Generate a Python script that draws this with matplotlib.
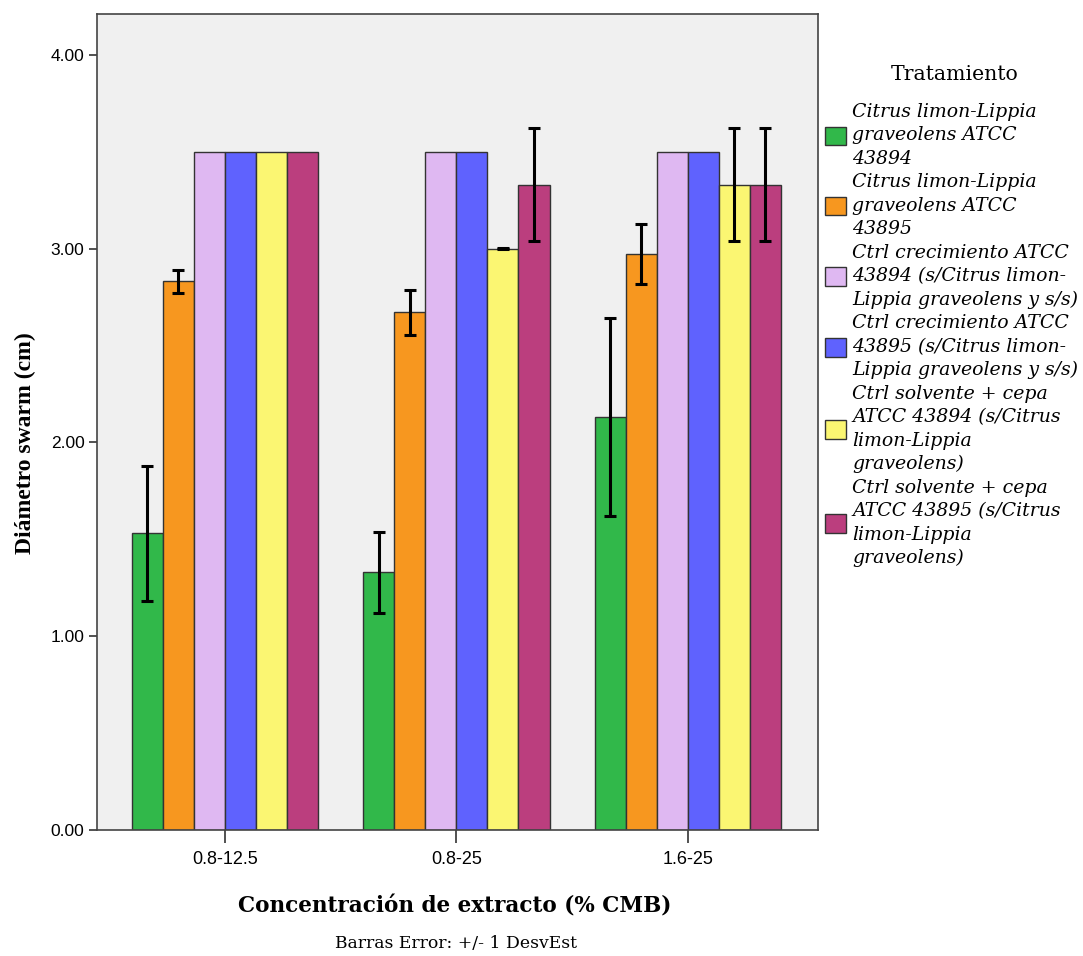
import numpy as np
import matplotlib.pyplot as plt

# medias y desviaciones estandar del diametro swarm (cm)
concentraciones = ['0.8-12.5', '0.8-25', '1.6-25']
tratamientos = [
    'Citrus limon-Lippia\ngraveolens ATCC\n43894',
    'Citrus limon-Lippia\ngraveolens ATCC\n43895',
    'Ctrl crecimiento ATCC\n43894 (s/Citrus limon-\nLippia graveolens y s/s)',
    'Ctrl crecimiento ATCC\n43895 (s/Citrus limon-\nLippia graveolens y s/s)',
    'Ctrl solvente + cepa\nATCC 43894 (s/Citrus\nlimon-Lippia\ngraveolens)',
    'Ctrl solvente + cepa\nATCC 43895 (s/Citrus\nlimon-Lippia\ngraveolens)',
]
medias = [
    [1.53, 1.33, 2.13],
    [2.83, 2.67, 2.97],
    [3.50, 3.50, 3.50],
    [3.50, 3.50, 3.50],
    [3.50, 3.00, 3.33],
    [3.50, 3.33, 3.33],
]
desv = [
    [0.35, 0.21, 0.51],
    [0.06, 0.115, 0.155],
    [0.0, 0.0, 0.0],
    [0.0, 0.0, 0.0],
    [0.0, 0.003, 0.29],
    [0.0, 0.29, 0.29],
]
colores = ['#31b84a', '#f7971f', '#dfb8f2', '#5f62fe', '#fbf672', '#bb3e7e']

serif = ['Liberation Serif', 'DejaVu Serif']
ancha = ['DejaVu Serif']
sans = ['Liberation Sans', 'DejaVu Sans']

fig = plt.figure(figsize=(10.83, 9.56), dpi=100)
ax = fig.add_axes([97 / 1083, 1 - 830 / 956, 721 / 1083, 816 / 956])
ax.set_facecolor('#f0f0f0')

x = np.arange(len(concentraciones))
ancho = 0.134
for i, (m, s, c, lab) in enumerate(zip(medias, desv, colores, tratamientos)):
    pos = x + (i - 2.5) * ancho
    ax.bar(pos, m, width=ancho, color=c, edgecolor='#333333', linewidth=1.0, label=lab, zorder=2)
    s = np.array(s)
    mask = s > 0
    ax.errorbar(pos[mask], np.array(m)[mask], yerr=s[mask], fmt='none', ecolor='black',
                elinewidth=2.2, capsize=4, capthick=2.2, zorder=3)

ax.set_xlim(-0.553, 2.562)
ax.set_ylim(0, 4.21)
ax.set_yticks([0, 1, 2, 3, 4])
ax.set_yticklabels(['0.00', '1.00', '2.00', '3.00', '4.00'], family=sans, fontsize=12.5)
ax.set_xticks(x)
ax.set_xticklabels(concentraciones, family=sans, fontsize=13)
ax.tick_params(axis='y', length=6, width=1.2, direction='out', color='#333333', pad=3)
ax.tick_params(axis='x', length=9, width=1.2, direction='out', color='#333333', pad=6)
for sp in ax.spines.values():
    sp.set_color('#444444')
    sp.set_linewidth(1.2)

ax.set_ylabel('Diámetro swarm (cm)', family=serif, fontsize=17, fontweight='bold')
ax.yaxis.set_label_coords(-61 / 721, (830 - 443) / 816)
ax.set_xlabel('Concentración de extracto (% CMB)', family=ancha, fontsize=15.5, fontweight='bold')
ax.xaxis.set_label_coords((455 - 97) / 721, -(895 - 830) / 816)

fig.text(456 / 1083, 1 - 944 / 956, 'Barras Error: +/- 1 DesvEst', family=ancha, fontsize=12.4,
         ha='center', va='center')

# leyenda fuera del area de trazado
fig.text(955 / 1083, 1 - 75 / 956, 'Tratamiento', family=ancha, fontsize=14.7, ha='center', va='center')
leg = ax.legend(loc='upper left', bbox_to_anchor=(825 / 1083, 1 - 103 / 956), bbox_transform=fig.transFigure,
                frameon=False, handlelength=1.13, handleheight=1.13, handletextpad=0.3,
                labelspacing=0.3, borderaxespad=0, borderpad=0,
                prop={'family': ancha, 'style': 'italic', 'size': 13.6})
for t in leg.get_texts():
    t.set_linespacing(1.38)

fig.savefig('out.png', dpi=100)
